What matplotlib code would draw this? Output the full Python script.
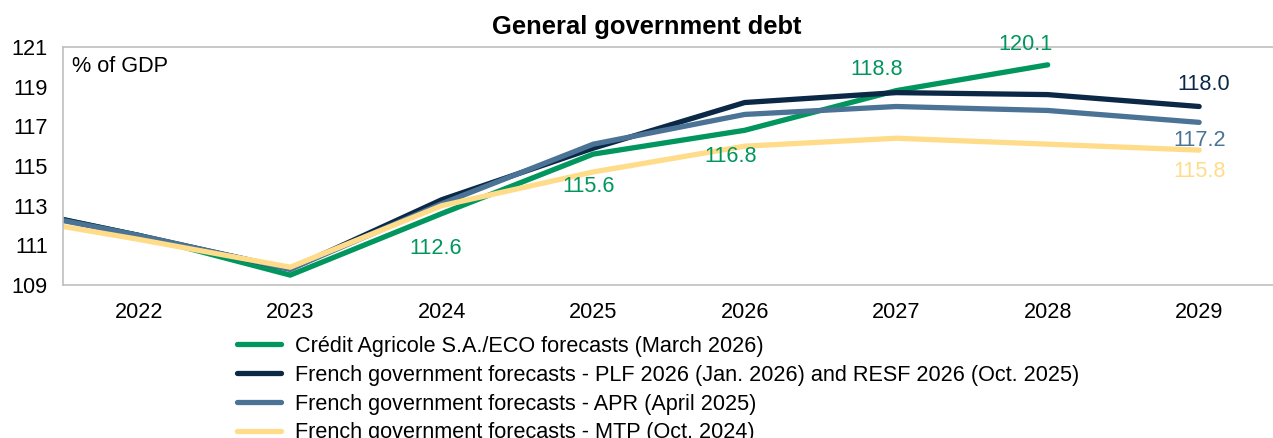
import matplotlib
matplotlib.use("Agg")
import matplotlib.pyplot as plt
import numpy as np

plt.rcParams["font.family"] = ["Liberation Sans", "DejaVu Sans"]

# ── Dati (% del PIL) ─────────────────────────────────────────────────────────
years = [2021, 2022, 2023, 2024, 2025, 2026, 2027, 2028, 2029]
ca_eco = [113.1, 111.5, 109.5, 112.6, 115.6, 116.8, 118.8, 120.1, np.nan]
plf_2026 = [113.1, 111.5, 109.8, 113.3, 115.9, 118.2, 118.7, 118.6, 118.0]
apr_2025 = [113.0, 111.5, 109.8, 113.1, 116.1, 117.6, 118.0, 117.8, 117.2]
mtp_2024 = [112.6, 111.3, 109.9, 113.0, 114.7, 116.0, 116.4, 116.1, 115.8]

labels = [
    "Crédit Agricole S.A./ECO forecasts (March 2026)",
    "French government forecasts - PLF 2026 (Jan. 2026) and RESF 2026 (Oct. 2025)",
    "French government forecasts - APR (April 2025)",
    "French government forecasts - MTP (Oct. 2024)",
]
x_ticks = [2022, 2023, 2024, 2025, 2026, 2027, 2028, 2029]
y_ticks = [109, 111, 113, 115, 117, 119, 121]

COLOR_GREEN = "#00965E"
COLOR_NAVY = "#0B2847"
COLOR_STEEL = "#4A7396"
COLOR_YELLOW = "#FFDC8A"
COLOR_SPINE = "#BFBFBF"
FS = 15.6

series = [ca_eco, plf_2026, apr_2025, mtp_2024]
colors = [COLOR_GREEN, COLOR_NAVY, COLOR_STEEL, COLOR_YELLOW]

fig = plt.figure(figsize=(12.73, 4.38), dpi=100)
ax = fig.add_axes([0.0495, 0.3493, 0.952, 0.5434])

for vals, col, lab in zip(series, colors, labels):
    ax.plot(years, vals, color=col, linewidth=3.8, solid_capstyle="round",
            solid_joinstyle="miter", label=lab)

ax.set_xlim(2021.5, 2029.5)
ax.set_ylim(109, 121)
ax.set_xticks(x_ticks)
ax.set_yticks(y_ticks)
ax.tick_params(length=0, labelsize=FS)
ax.tick_params(axis="y", pad=11)
ax.tick_params(axis="x", pad=12)
for name, spine in ax.spines.items():
    spine.set_color(COLOR_SPINE)
    spine.set_linewidth(1.2)
ax.spines["right"].set_visible(False)

ax.text(0.0074, 0.916, "% of GDP", transform=ax.transAxes, fontsize=FS,
        va="center", ha="left", color="black")

# Etichette dati (serie, anno, offset in pixel)
px = 0.72
annots = [
    (ca_eco, 2024, -6, -35, COLOR_GREEN),
    (ca_eco, 2025, -5, -32, COLOR_GREEN),
    (ca_eco, 2026, -14, -26, COLOR_GREEN),
    (ca_eco, 2027, -20, 21, COLOR_GREEN),
    (ca_eco, 2028, -22, 20, COLOR_GREEN),
    (plf_2026, 2029, 5, 22, COLOR_NAVY),
    (apr_2025, 2029, 1, -18, COLOR_STEEL),
    (mtp_2024, 2029, 0, -21, COLOR_YELLOW),
]
for vals, yr, dx, dy, col in annots:
    v = vals[years.index(yr)]
    ax.annotate(f"{v:.1f}", xy=(yr, v), xytext=(dx * px, dy * px),
                textcoords="offset points", ha="center", va="center",
                fontsize=FS, color=col)

fig.text(0.508, 0.938, "General government debt", ha="center", va="center",
         fontsize=18.4, fontweight="bold")

fig.legend(loc="upper left", bbox_to_anchor=(237 / 1273, 1 - 336 / 438),
           frameon=False, fontsize=FS, handlelength=2.05, handletextpad=0.62,
           labelspacing=0.36, borderpad=0, borderaxespad=0)

fig.savefig("out.png", dpi=100)
